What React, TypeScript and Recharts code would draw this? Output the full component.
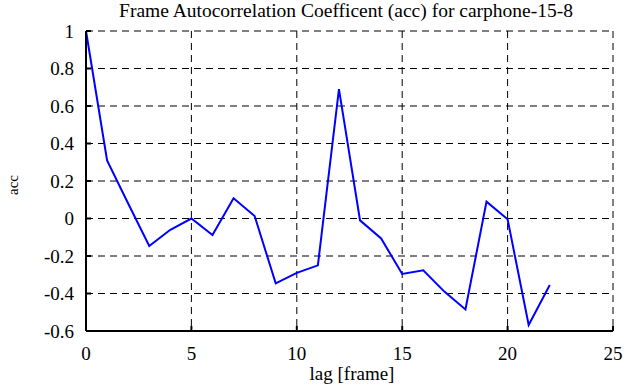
import React from 'react';
import { LineChart, Line, XAxis, YAxis, CartesianGrid } from 'recharts';

const lags = [0, 1, 2, 3, 4, 5, 6, 7, 8, 9, 10, 11, 12, 13, 14, 15, 16, 17, 18, 19, 20, 21, 22];
const accValues = [1.0, 0.31, 0.08, -0.147, -0.06, 0.0, -0.088, 0.108, 0.013, -0.346, -0.29, -0.25, 0.69, -0.01, -0.106, -0.296, -0.276, -0.39, -0.485, 0.09, -0.004, -0.568, -0.355];
const xTicks = [0, 5, 10, 15, 20, 25];
const yTicks = [-0.6, -0.4, -0.2, 0, 0.2, 0.4, 0.6, 0.8, 1];

const data = lags.map((lag, i) => ({ lag, acc: accValues[i] }));

const FONT = '"Liberation Serif", "Times New Roman", serif';
const tickStyle = { fill: '#000', fontSize: 19, style: { fontFamily: FONT } };
const noTick = () => <g />;

const App: React.FC = () => {
  return (
    <div style={{ position: 'absolute', left: 0, top: 0, width: 641, height: 387, background: '#fff', fontFamily: FONT }}>
      <LineChart width={641} height={387} data={data} margin={{ top: 31, right: 28, left: 0, bottom: 0 }} style={{ fontFamily: FONT }}>
        <CartesianGrid xAxisId="b" yAxisId="l" stroke="#000" strokeDasharray="7 5" />
        <XAxis
          xAxisId="b"
          dataKey="lag"
          type="number"
          domain={[0, 25]}
          ticks={xTicks}
          height={56}
          stroke="#000"
          strokeWidth={2}
          tickSize={-5}
          tickMargin={21}
          tick={tickStyle}
        />
        <XAxis xAxisId="t" dataKey="lag" type="number" orientation="top" domain={[0, 25]} ticks={xTicks} height={0} stroke="#000" strokeWidth={2} tickSize={-5} tick={noTick} />
        <YAxis
          yAxisId="l"
          type="number"
          domain={[-0.6, 1]}
          ticks={yTicks}
          width={86}
          stroke="#000"
          strokeWidth={2}
          tickSize={-5}
          tickMargin={17}
          tick={tickStyle}
        />
        <YAxis yAxisId="r" type="number" orientation="right" domain={[-0.6, 1]} ticks={yTicks} width={0} stroke="#000" strokeWidth={2} tickSize={-5} tick={noTick} />
        <Line xAxisId="b" yAxisId="l" type="linear" dataKey="acc" stroke="#0000ff" strokeWidth={2} dot={false} isAnimationActive={false} />
        <text x={346} y={17} textAnchor="middle" fill="#000" fontSize={19.5} style={{ fontFamily: FONT }}>
          Frame Autocorrelation Coefficent (acc) for carphone-15-8
        </text>
        <text x={352} y={380} textAnchor="middle" fill="#000" fontSize={19} style={{ fontFamily: FONT }}>
          lag [frame]
        </text>
        <text x={18} y={185} textAnchor="middle" transform="rotate(-90 18 185)" fill="#000" fontSize={15} style={{ fontFamily: FONT }}>
          acc
        </text>
      </LineChart>
    </div>
  );
};

export default App;
